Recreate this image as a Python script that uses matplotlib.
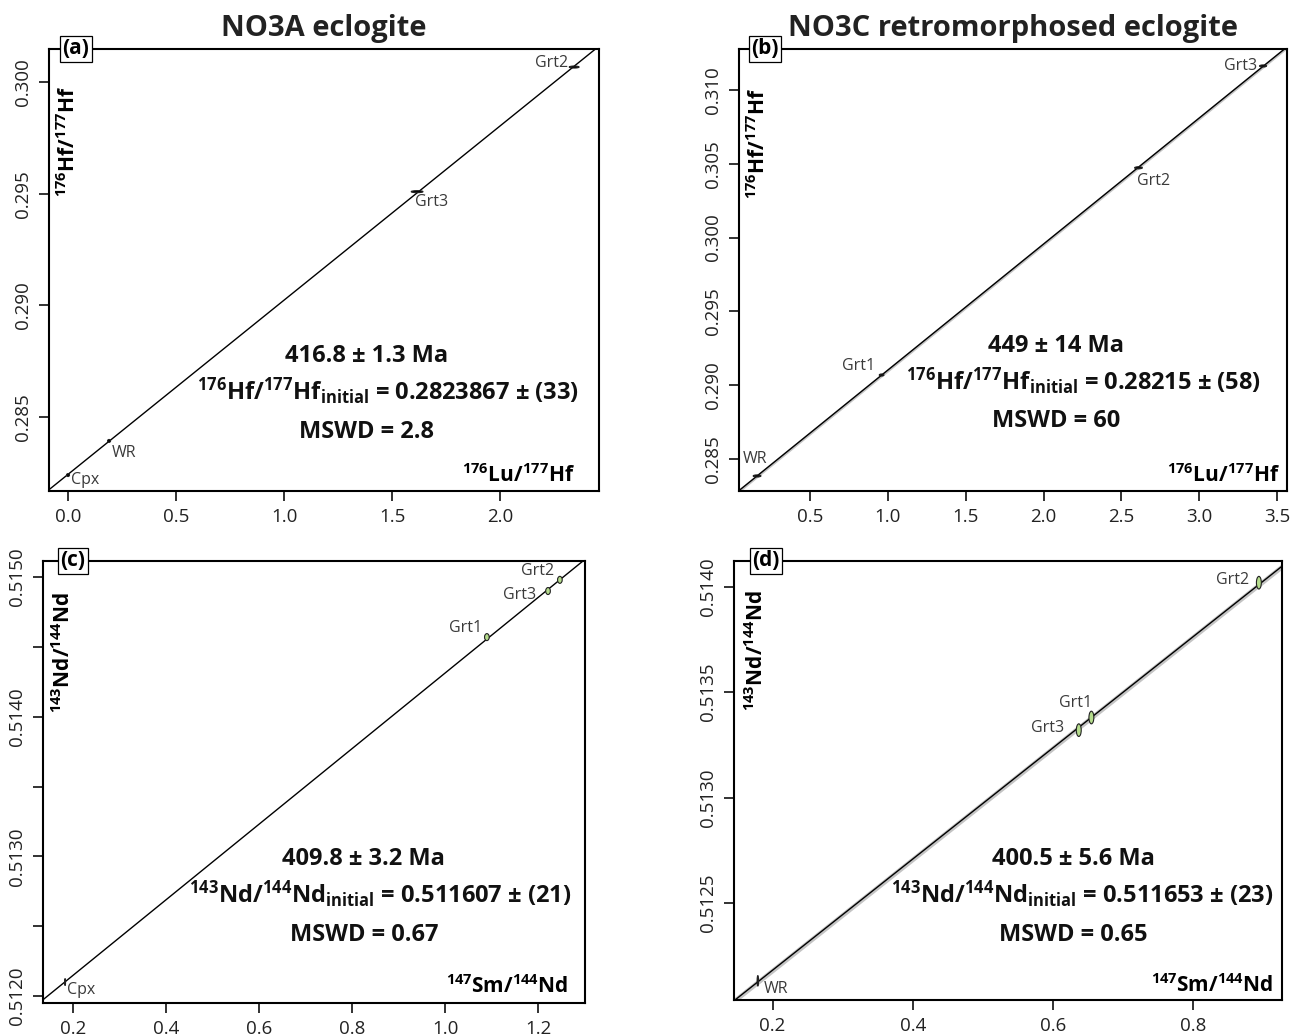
import numpy as np
import matplotlib
matplotlib.use("Agg")
import matplotlib.pyplot as plt
from matplotlib.patches import Ellipse
from matplotlib.ticker import MultipleLocator, FuncFormatter

plt.rcParams["font.family"] = ["Open Sans", "DejaVu Sans"]
plt.rcParams["mathtext.fontset"] = "custom"
plt.rcParams["mathtext.rm"] = "Open Sans:bold"
plt.rcParams["mathtext.it"] = "Open Sans:bold"
plt.rcParams["mathtext.bf"] = "Open Sans:bold"

# ---- data ----
# (a) NO3A eclogite, Lu-Hf
a_names = ["Cpx", "WR", "Grt3", "Grt2"]
a_x = [0.0, 0.19, 1.616, 2.343]
a_y = [0.28240, 0.28393, 0.29509, 0.30067]
a_sx = [0.014, 0.014, 0.055, 0.046]
a_sy = [0.00013, 0.00013, 0.00009, 0.00009]

# (b) NO3C retromorphosed eclogite, Lu-Hf
b_names = ["WR", "Grt1", "Grt2", "Grt3"]
b_x = [0.16, 0.96, 2.61, 3.41]
b_y = [0.28385, 0.29069, 0.30473, 0.31163]
b_sx = [0.050, 0.030, 0.050, 0.045]
b_sy = [0.00014, 0.00014, 0.00014, 0.00014]

# (c) NO3A eclogite, Sm-Nd
c_names = ["Cpx", "Grt1", "Grt3", "Grt2"]
c_x = [0.183, 1.090, 1.2215, 1.247]
c_y = [0.51210, 0.51457, 0.51490, 0.51498]
c_sx = [0.002, 0.010, 0.010, 0.010]
c_sy = [0.00005, 0.00005, 0.00005, 0.00005]

# (d) NO3C retromorphosed eclogite, Sm-Nd
d_names = ["WR", "Grt3", "Grt1", "Grt2"]
d_x = [0.179, 0.637, 0.655, 0.894]
d_y = [0.51213, 0.51332, 0.51338, 0.51402]
d_sx = [0.002, 0.007, 0.007, 0.007]
d_sy = [0.00005, 0.00006, 0.00006, 0.00006]

ages = ["416.8 ± 1.3 Ma", "449 ± 14 Ma", "409.8 ± 3.2 Ma", "400.5 ± 5.6 Ma"]
initials = ["0.2823867 ± (33)", "0.28215 ± (58)", "0.511607 ± (21)", "0.511653 ± (23)"]
mswds = ["2.8", "60", "0.67", "0.65"]
envelope = [0.0, 0.00013, 0.0, 0.000014]

HF_Y = r"$^{176}$Hf/$^{177}$Hf"
HF_X = r"$^{176}$Lu/$^{177}$Hf"
ND_Y = r"$^{143}$Nd/$^{144}$Nd"
ND_X = r"$^{147}$Sm/$^{144}$Nd"

fig = plt.figure(figsize=(12.91, 10.35), dpi=100)

panels = [
    dict(tag="(a)", title="NO3A eclogite", names=a_names, x=a_x, y=a_y, sx=a_sx, sy=a_sy,
         rect=[49 / 1291, 1 - 491 / 1035, 550 / 1291, 442 / 1035],
         xlim=(-0.088, 2.458), ylim=(0.281687, 0.301478), xstep=0.5, ystep=0.005,
         yfmt="%.3f", ylab_every=1, fc="black", xl=HF_X, yl=HF_Y, ratio="Hf",
         tagx=0.049, ylx=0.035, yly=0.918, xlx=0.956, xly=0.020,
         txt_x=(0.578, 0.616, 0.578), txt_y=(0.292, 0.206, 0.120),
         offs=[(3, -5, "left"), (3, -12, "left"), (-2, -10, "left"), (-6, 4, "right")]),
    dict(tag="(b)", title="NO3C retromorphosed eclogite", names=b_names, x=b_x, y=b_y,
         sx=b_sx, sy=b_sy,
         rect=[739 / 1291, 1 - 491 / 1035, 548 / 1291, 442 / 1035],
         xlim=(0.044, 3.564), ylim=(0.28283, 0.31278), xstep=0.5, ystep=0.005,
         yfmt="%.3f", ylab_every=1, fc="black", xl=HF_X, yl=HF_Y, ratio="Hf",
         tagx=0.047, ylx=0.036, yly=0.914, xlx=0.987, xly=0.020,
         txt_x=(0.578, 0.628, 0.578), txt_y=(0.314, 0.2285, 0.145),
         offs=[(-14, 17, "left"), (-6, 9, "right"), (-1, -13, "left"), (-6, 0, "right")]),
    dict(tag="(c)", title=None, names=c_names, x=c_x, y=c_y, sx=c_sx, sy=c_sy,
         rect=[43 / 1291, 1 - 1003 / 1035, 542 / 1291, 442 / 1035],
         xlim=(0.1355, 1.301), ylim=(0.51195, 0.515115), xstep=0.2, ystep=0.0005,
         yfmt="%.4f", ylab_every=2, fc="#b5dc8c", xl=ND_X, yl=ND_Y, ratio="Nd",
         tagx=0.055, ylx=0.037, yly=0.930, xlx=0.969, xly=0.022,
         txt_x=(0.592, 0.622, 0.592), txt_y=(0.312, 0.226, 0.140),
         offs=[(2, -8, "left"), (-5, 9, "right"), (-12, -4, "right"), (-6, 9, "right")]),
    dict(tag="(d)", title=None, names=d_names, x=d_x, y=d_y, sx=d_sx, sy=d_sy,
         rect=[734 / 1291, 1 - 1000 / 1035, 548 / 1291, 439 / 1035],
         xlim=(0.145, 0.927), ylim=(0.512039, 0.514123), xstep=0.2, ystep=0.0005,
         yfmt="%.4f", ylab_every=1, fc="#b5dc8c", xl=ND_X, yl=ND_Y, ratio="Nd",
         tagx=0.058, ylx=0.042, yly=0.934, xlx=0.984, xly=0.018,
         txt_x=(0.620, 0.635, 0.619), txt_y=(0.3075, 0.221, 0.134),
         offs=[(6, -8, "left"), (-15, 2, "right"), (1, 15, "right"), (-10, 3, "right")]),
]

for i, p in enumerate(panels):
    ax = fig.add_axes(p["rect"])
    x = np.array(p["x"])
    y = np.array(p["y"])

    # isochron fitted through the measured points
    slope, icpt = np.polyfit(x, y, 1)
    xx = np.linspace(p["xlim"][0] - 0.1, p["xlim"][1] + 0.1, 50)
    yy = icpt + slope * xx
    if envelope[i] > 0:
        ax.fill_between(xx, yy - envelope[i], yy + envelope[i], color="#c4c4c4", lw=0, zorder=1)
    ax.plot(xx, yy, color="black", lw=1.0, zorder=2)

    for k in range(len(x)):
        face = p["fc"] if p["names"][k].startswith("Grt") else "black"
        ax.add_patch(Ellipse((x[k], y[k]), p["sx"][k], p["sy"][k], facecolor=face,
                             edgecolor="#222222", lw=0.8, zorder=3))
        dx, dy, ha = p["offs"][k]
        ax.annotate(p["names"][k], (x[k], y[k]), xytext=(dx, dy), textcoords="offset pixels",
                    ha=ha, va="center", fontsize=11.5, color="#3a3a3a", zorder=4)

    ax.set_xlim(*p["xlim"])
    ax.set_ylim(*p["ylim"])
    ax.xaxis.set_major_locator(MultipleLocator(p["xstep"]))
    ax.xaxis.set_major_formatter(FuncFormatter(lambda v, pos: "%.1f" % v))
    ax.yaxis.set_major_locator(MultipleLocator(p["ystep"]))
    every = p["ylab_every"]
    fmt = p["yfmt"]
    step = p["ystep"]

    def yform(v, pos, every=every, fmt=fmt, step=step):
        n = int(round(v / step))
        return fmt % v if n % every == 0 else ""

    ax.yaxis.set_major_formatter(FuncFormatter(yform))
    ax.tick_params(direction="out", length=7, width=1.3, labelsize=13.5, pad=5,
                   colors="#222222")
    ax.tick_params(axis="y", labelrotation=90)
    for lab in ax.get_yticklabels():
        lab.set_va("center")
    for s in ax.spines.values():
        s.set_linewidth(1.5)

    if p["title"]:
        ax.set_title(p["title"], fontsize=21, fontweight="bold", pad=9, color="#222222")

    ax.text(p["tagx"], 1.0, p["tag"], transform=ax.transAxes, ha="center", va="center",
            fontsize=15, fontweight="bold", zorder=6,
            bbox=dict(boxstyle="square,pad=0.12", fc="white", ec="black", lw=0.9))

    ax.text(p["ylx"], p["yly"], p["yl"], transform=ax.transAxes, rotation=90,
            ha="center", va="top", fontsize=15, fontweight="bold")
    ax.text(p["xlx"], p["xly"], p["xl"], transform=ax.transAxes,
            ha="right", va="baseline", fontsize=15, fontweight="bold")

    r = p["ratio"]
    num = "176" if r == "Hf" else "143"
    den = "177" if r == "Hf" else "144"
    line2 = r"$^{%s}$%s/$^{%s}$%s$_{\mathrm{initial}}$ = %s" % (num, r, den, r, initials[i])
    lines = [ages[i], line2, "MSWD = " + mswds[i]]
    for j in range(3):
        ax.text(p["txt_x"][j], p["txt_y"][j], lines[j], transform=ax.transAxes,
                ha="center", va="baseline", fontsize=17, fontweight="bold", color="#111111")

fig.savefig("out.png", dpi=100)
